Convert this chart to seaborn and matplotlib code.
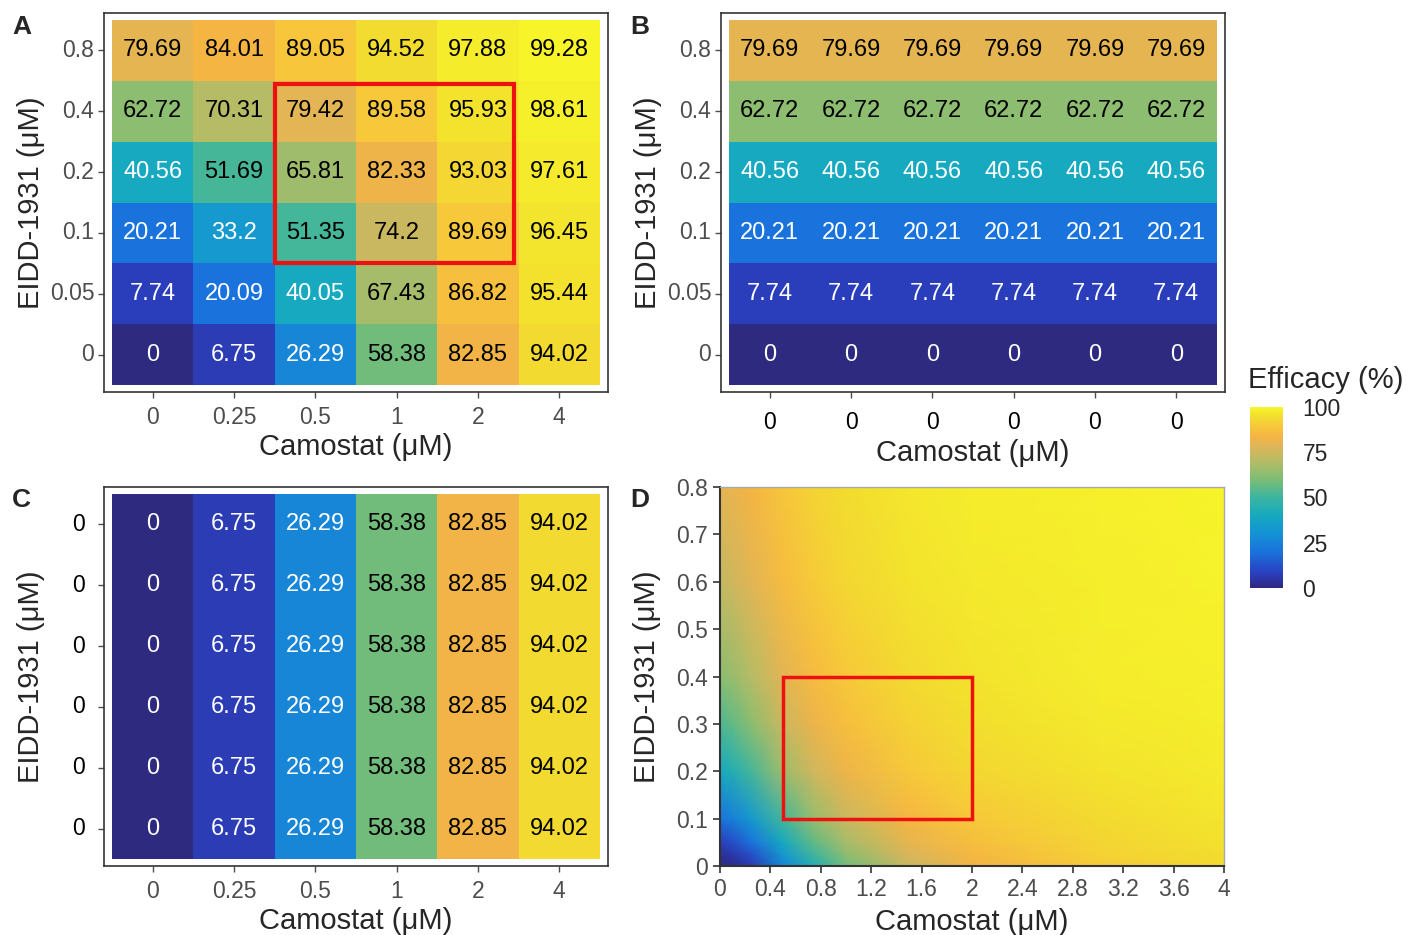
import numpy as np
import pandas as pd
import seaborn as sns
import matplotlib.pyplot as plt
from matplotlib.colors import LinearSegmentedColormap
from matplotlib.patches import Rectangle
from matplotlib.cm import ScalarMappable
from matplotlib.colors import Normalize

# doses
camostat = ["0", "0.25", "0.5", "1", "2", "4"]
eidd = ["0.8", "0.4", "0.2", "0.1", "0.05", "0"]  # top to bottom

# panel A: combination efficacy (%), rows = EIDD top->bottom
combo = [
    [79.69, 84.01, 89.05, 94.52, 97.88, 99.28],
    [62.72, 70.31, 79.42, 89.58, 95.93, 98.61],
    [40.56, 51.69, 65.81, 82.33, 93.03, 97.61],
    [20.21, 33.2, 51.35, 74.2, 89.69, 96.45],
    [7.74, 20.09, 40.05, 67.43, 86.82, 95.44],
    [0, 6.75, 26.29, 58.38, 82.85, 94.02],
]
# panel B: EIDD-1931 alone, panel C: camostat alone
eidd_alone = [79.69, 62.72, 40.56, 20.21, 7.74, 0]
camostat_alone = [0, 6.75, 26.29, 58.38, 82.85, 94.02]

# panel D: surface (camostat x, EIDD y)
surf_x = [0, 0.1, 0.25, 0.5, 0.75, 1, 1.5, 2, 3, 4]
surf_y = [0, 0.025, 0.05, 0.1, 0.2, 0.3, 0.4, 0.6, 0.8]
surf_z = [
    [0, 1.5, 6.75, 26.29, 44.0, 58.38, 74.0, 82.85, 90.5, 94.02],
    [3.0, 5.5, 12.0, 33.0, 51.0, 63.0, 77.5, 85.0, 92.0, 94.8],
    [7.74, 11.5, 20.09, 40.05, 56.0, 67.43, 80.5, 86.82, 92.8, 95.44],
    [20.21, 24.5, 33.2, 51.35, 64.5, 74.2, 84.5, 89.69, 94.0, 96.45],
    [40.56, 44.0, 51.69, 65.81, 75.5, 82.33, 89.5, 93.03, 96.0, 97.61],
    [53.0, 56.0, 62.5, 74.0, 82.0, 86.8, 92.0, 94.8, 97.0, 98.2],
    [62.72, 65.0, 70.31, 79.42, 85.8, 89.58, 93.8, 95.93, 97.7, 98.61],
    [73.0, 75.0, 79.0, 86.0, 90.5, 93.0, 95.8, 97.2, 98.3, 99.0],
    [79.69, 81.0, 84.01, 89.05, 92.5, 94.52, 96.8, 97.88, 98.8, 99.28],
]

# highlighted region
box_camostat = ("0.5", "2")
box_eidd = ("0.4", "0.1")
box_d_x = (0.5, 2.0)
box_d_y = (0.1, 0.4)

parula = LinearSegmentedColormap.from_list("parula_like", [
    (0.00, "#2E2A80"), (0.08, "#2A3FBF"), (0.20, "#1A73DC"), (0.30, "#1592D4"),
    (0.40, "#16A9C0"), (0.50, "#3BB5A0"), (0.60, "#7CBD74"), (0.70, "#B5BC66"),
    (0.78, "#DDB55A"), (0.84, "#F5B443"), (0.90, "#F7C93A"), (0.95, "#F2DE2E"),
    (1.00, "#F7F62A"),
])

sns.set_style("white")
plt.rcParams["font.family"] = ["Liberation Sans", "DejaVu Sans"]

fig = plt.figure(figsize=(14.11, 9.35), dpi=100)
W, H = 1411, 935


def px_axes(x0, y0, x1, y1):
    return fig.add_axes([x0 / W, (H - y1) / H, (x1 - x0) / W, (y1 - y0) / H])


axA = px_axes(104, 13, 608, 392)
axB = px_axes(721, 13, 1225, 392)
axC = px_axes(104, 487, 608, 866)
axD = px_axes(720, 487, 1224, 866)
cax = px_axes(1250, 407, 1283, 588)

gray = "#4D4D4D"
TICK = 16.5
TITLE = 21
YLAB_X = -0.118


def draw_tiles(ax, values, xlabels, ylabels, xcol, ycol):
    df = pd.DataFrame(values, index=ylabels, columns=range(len(xlabels)))
    annot = np.vectorize(lambda v: f"{v:g}")(np.array(values))
    sns.heatmap(df, ax=ax, cmap=parula, vmin=0, vmax=100, cbar=False,
                annot=annot, fmt="", annot_kws={"fontsize": 17})
    for t, v in zip(ax.texts, np.array(values).ravel()):
        t.set_color("white" if v < 45 else "black")
    ax.set_xlim(-0.1, len(xlabels) + 0.1)
    ax.set_ylim(len(ylabels) + 0.115, -0.115)
    ax.set_xticks(np.arange(len(xlabels)) + 0.5)
    ax.set_xticklabels(xlabels, rotation=0)
    ax.set_yticks(np.arange(len(ylabels)) + 0.5)
    ax.set_yticklabels(ylabels, rotation=0)
    ax.tick_params(axis="x", colors=gray, labelcolor=xcol, labelsize=TICK,
                   length=4, width=1, bottom=True, pad=6)
    ax.tick_params(axis="y", colors=gray, labelcolor=ycol, labelsize=TICK,
                   length=4, width=1, left=True, pad=3)
    for s in ax.spines.values():
        s.set_visible(True)
        s.set_color("#333333")
        s.set_linewidth(1.2)
    ax.set_xlabel("Camostat (μM)", fontsize=TITLE, labelpad=3)
    ax.set_ylabel("EIDD-1931 (μM)", fontsize=TITLE)
    ax.yaxis.set_label_coords(YLAB_X, 0.5)


draw_tiles(axA, combo, camostat, eidd, gray, gray)
draw_tiles(axB, [[v] * 6 for v in eidd_alone], ["0"] * 6, eidd, "black", gray)
axB.tick_params(axis="x", pad=10)
draw_tiles(axC, [camostat_alone] * 6, camostat, ["0"] * 6, gray, "black")
axC.tick_params(axis="y", pad=10)

# red box on A
bx0 = camostat.index(box_camostat[0])
bx1 = camostat.index(box_camostat[1]) + 1
by0 = eidd.index(box_eidd[0])
by1 = eidd.index(box_eidd[1]) + 1
axA.add_patch(Rectangle((bx0, by0 + 0.05), bx1 - bx0 - 0.06, by1 - by0 - 0.05,
                        fill=False, edgecolor="#EE1111", linewidth=3, zorder=5))

# panel D surface
axD.pcolormesh(surf_x, surf_y, np.array(surf_z), shading="gouraud",
               cmap=parula, vmin=0, vmax=100, rasterized=True)
axD.add_patch(Rectangle((box_d_x[0], box_d_y[0]), box_d_x[1] - box_d_x[0],
                        box_d_y[1] - box_d_y[0], fill=False,
                        edgecolor="#EE1111", linewidth=2.5, zorder=5))
axD.set_xlim(0, 4)
axD.set_ylim(0, 0.8)
xt = np.round(np.arange(0, 4.01, 0.4), 1)
yt = np.round(np.arange(0, 0.81, 0.1), 1)
axD.set_xticks(xt)
axD.set_xticklabels([f"{v:g}" for v in xt])
axD.set_yticks(yt)
axD.set_yticklabels([f"{v:g}" for v in yt])
axD.tick_params(axis="both", colors="#333333", labelcolor=gray, labelsize=TICK,
                length=5, width=1.2, bottom=True, left=True)
for name, s in axD.spines.items():
    s.set_visible(True)
    s.set_color("#333333" if name in ("left", "bottom") else "#AAAAAA")
    s.set_linewidth(1.5 if name in ("left", "bottom") else 1.0)
axD.set_xlabel("Camostat (μM)", fontsize=TITLE, labelpad=5)
axD.set_ylabel("EIDD-1931 (μM)", fontsize=TITLE)
axD.yaxis.set_label_coords(YLAB_X, 0.5)

# colour bar
cb = fig.colorbar(ScalarMappable(norm=Normalize(0, 100), cmap=parula), cax=cax,
                  ticks=[0, 25, 50, 75, 100])
cb.outline.set_visible(False)
cax.tick_params(left=True, right=True, labelleft=False, labelright=True,
                direction="in", color="white", length=6, width=1.2,
                labelsize=TICK, pad=14)
cax.text(-0.05, 1.07, "Efficacy (%)", transform=cax.transAxes, fontsize=TITLE,
         ha="left", va="bottom")

# panel letters
for lab, (x, y) in {"A": (12, 27), "B": (630, 27), "C": (12, 500), "D": (630, 500)}.items():
    fig.text(x / W, 1 - y / H, lab, fontsize=19, fontweight="bold",
             ha="left", va="center")

plt.savefig("out.png", dpi=100)
